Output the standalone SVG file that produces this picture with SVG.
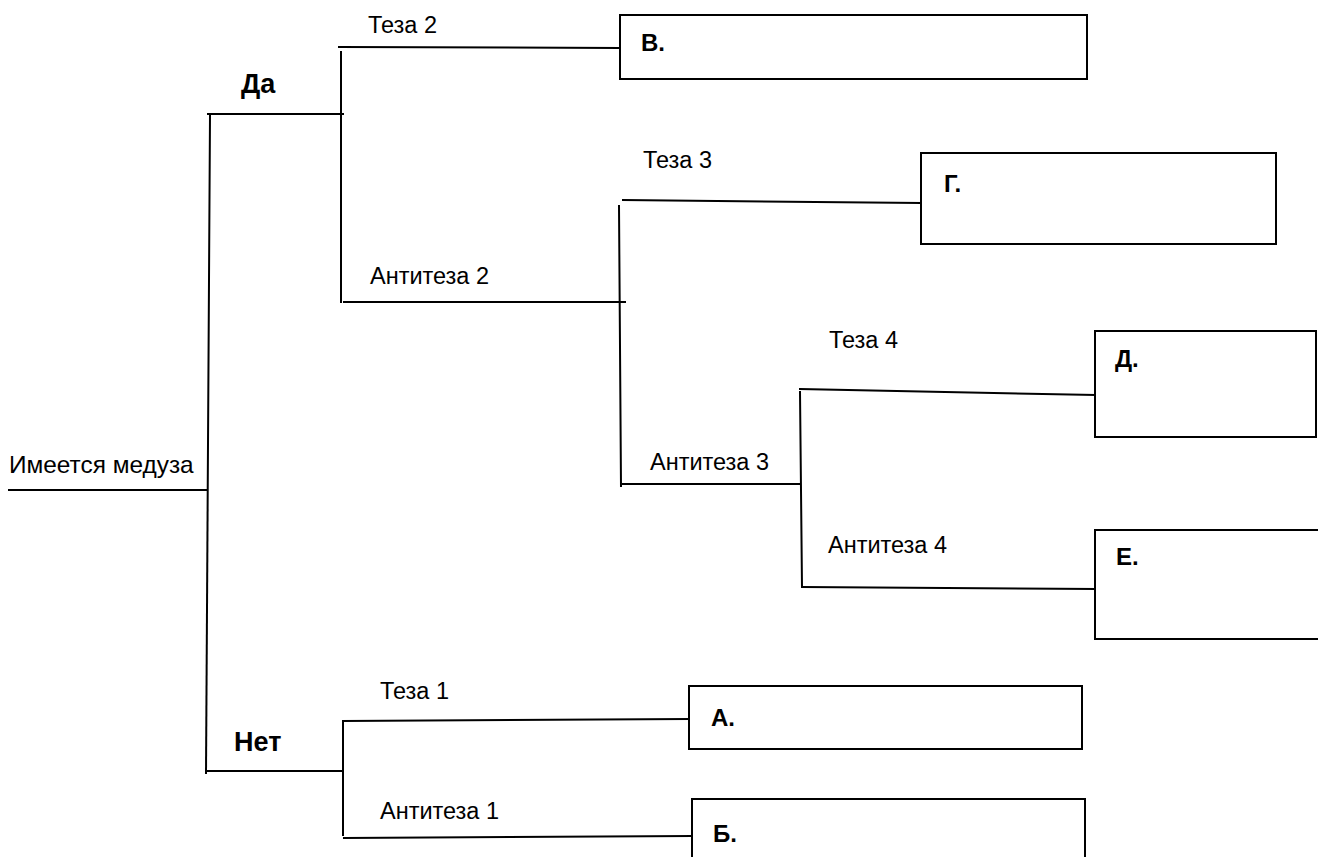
<svg xmlns="http://www.w3.org/2000/svg" width="1318" height="857" viewBox="0 0 1318 857">
<style>
.ln{stroke:#000;stroke-width:2;fill:none;stroke-linecap:square}
.bx{stroke:#000;stroke-width:2;fill:#fff}
.t{font-family:"Liberation Sans",Arial,sans-serif;font-size:23.5px;fill:#000}
.r{font-family:"Liberation Sans",Arial,sans-serif;font-size:24.4px;fill:#000}
.b{font-family:"Liberation Sans",Arial,sans-serif;font-size:24px;font-weight:bold;fill:#000}
.yn{font-family:"Liberation Sans",Arial,sans-serif;font-size:27px;font-weight:bold;fill:#000}
</style>
<rect width="1318" height="857" fill="#fff"/>
<g id="connectors">
<line class="ln" x1="9" y1="490" x2="206" y2="490"/>
<line class="ln" x1="210" y1="116" x2="206" y2="773"/>
<line class="ln" x1="208" y1="114" x2="343" y2="114"/>
<line class="ln" x1="341" y1="52" x2="341" y2="302"/>
<line class="ln" x1="339" y1="47" x2="620" y2="48"/>
<line class="ln" x1="344" y1="302" x2="625" y2="302"/>
<line class="ln" x1="619" y1="206" x2="621" y2="486"/>
<line class="ln" x1="623" y1="200" x2="921" y2="203"/>
<line class="ln" x1="623" y1="484" x2="800" y2="484"/>
<line class="ln" x1="800" y1="392" x2="802" y2="587"/>
<line class="ln" x1="800" y1="389" x2="1095" y2="395"/>
<line class="ln" x1="802" y1="587" x2="1096" y2="589"/>
<line class="ln" x1="206" y1="771" x2="343" y2="771"/>
<line class="ln" x1="343" y1="723" x2="343" y2="835"/>
<line class="ln" x1="343" y1="721" x2="689" y2="719"/>
<line class="ln" x1="344" y1="838" x2="692" y2="836"/>
</g>
<g id="root"><text class="r" x="9" y="473">Имеется медуза</text></g>
<g id="yes"><text class="yn" x="241" y="93">Да</text></g>
<g id="no"><text class="yn" x="234" y="751">Нет</text></g>
<g id="labels">
<text class="t" x="368" y="33">Теза 2</text>
<text class="t" x="370" y="284">Антитеза 2</text>
<text class="t" x="643" y="168">Теза 3</text>
<text class="t" x="650" y="470">Антитеза 3</text>
<text class="t" x="829" y="348">Теза 4</text>
<text class="t" x="828" y="553">Антитеза 4</text>
<text class="t" x="380" y="699">Теза 1</text>
<text class="t" x="380" y="819">Антитеза 1</text>
</g>
<g id="box-v"><rect class="bx" x="620" y="15" width="467" height="64"/><text class="b" x="641" y="51">В.</text></g>
<g id="box-g"><rect class="bx" x="921" y="153" width="355" height="91"/><text class="b" x="944" y="192">Г.</text></g>
<g id="box-d"><rect class="bx" x="1095" y="331" width="221" height="106"/><text class="b" x="1115" y="367">Д.</text></g>
<g id="box-e"><rect class="bx" x="1095" y="530" width="230" height="109"/><text class="b" x="1116" y="565">Е.</text></g>
<g id="box-a"><rect class="bx" x="689" y="686" width="393" height="63"/><text class="b" x="711" y="726">А.</text></g>
<g id="box-b"><rect class="bx" x="692" y="799" width="393" height="70"/><text class="b" x="713" y="842">Б.</text></g>
</svg>
